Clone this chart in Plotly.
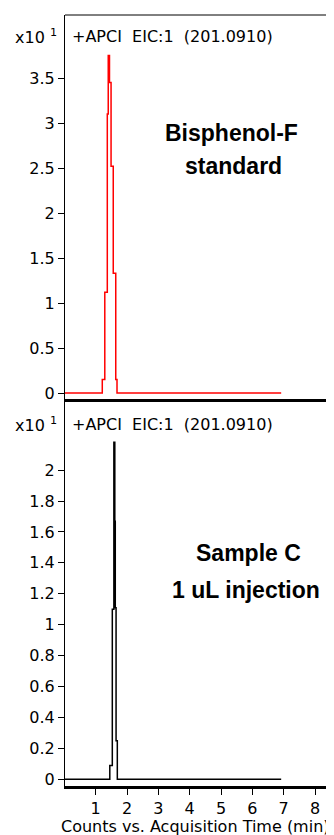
import plotly.graph_objects as go

# ---- data (time in min, counts in x10^1) ----
std_time = [0.0, 1.21, 1.29, 1.37, 1.40, 1.44, 1.49, 1.56, 1.64, 1.68, 6.92]
std_counts = [0.0, 0.15, 1.12, 3.10, 3.75, 3.45, 2.52, 1.33, 0.15, 0.0, 0.0]

smp_time = [0.0, 1.45, 1.53, 1.58, 1.61, 1.625, 1.65, 1.69, 6.92]
smp_counts = [0.0, 0.09, 1.10, 2.18, 1.67, 1.11, 0.25, 0.0, 0.0]

x_ticks = [1, 2, 3, 4, 5, 6, 7, 8]
top_yticks = [0, 0.5, 1, 1.5, 2, 2.5, 3, 3.5]
bot_yticks = [0, 0.2, 0.4, 0.6, 0.8, 1, 1.2, 1.4, 1.6, 1.8, 2]

trace_label = "+APCI\u00a0\u00a0EIC:1\u00a0\u00a0(201.0910)"
x_title = "Counts vs. Acquisition Time (min)"

# the page body adds an 8 px margin; compensate so the picture lands at the window's pixels
OFF = 8
W, H = 334 - OFF, 835 - OFF
L, R, T, B = 65 - OFF, 0, 15 - OFF, 835 - 786
PW, PH = W - L - R, H - T - B


def px(xp, yp):
    """window pixel -> paper coordinates"""
    xf, yf = xp - OFF, yp - OFF
    return (xf - L) / PW, (H - B - yf) / PH


split = px(0, 399)[1]  # paper y where panels meet

FONT = "DejaVu Sans"

fig = go.Figure()
fig.add_trace(go.Scatter(x=std_time, y=std_counts, mode="lines", line=dict(color="#ff0000", width=1.5, shape="hv"),
                         xaxis="x", yaxis="y", showlegend=False, hoverinfo="skip"))
fig.add_trace(go.Scatter(x=smp_time, y=smp_counts, mode="lines", line=dict(color="#000000", width=1.5, shape="hv"),
                         xaxis="x2", yaxis="y2", showlegend=False, hoverinfo="skip"))

xr = [0.02, 8.606]
fig.update_layout(
    width=W, height=H,
    margin=dict(l=L, r=R, t=T, b=B, pad=0, autoexpand=False),
    paper_bgcolor="white", plot_bgcolor="white",
    font=dict(family=FONT, size=16, color="#000"),
    xaxis=dict(domain=[0, 1], anchor="y", range=xr, showgrid=False, zeroline=False, automargin=False,
               showline=True, linecolor="black", linewidth=3, showticklabels=False, ticks=""),
    yaxis=dict(domain=[split, 1], anchor="x", range=[-0.0667, 4.2], showgrid=False, zeroline=False,
               automargin=False,
               showline=True, linecolor="black", linewidth=1, ticks="outside", ticklen=6,
               tickcolor="black", tickvals=top_yticks, tickfont=dict(size=16)),
    xaxis2=dict(domain=[0, 1], anchor="y2", range=xr, showgrid=False, zeroline=False, automargin=False,
                showline=True, linecolor="black", linewidth=3, ticks="outside", ticklen=6,
                tickcolor="black", tickvals=x_ticks, tickfont=dict(size=16)),
    yaxis2=dict(domain=[0, split], anchor="x2", range=[-0.0434, 2.46], showgrid=False, zeroline=False,
                automargin=False,
                showline=True, linecolor="black", linewidth=1, ticks="outside", ticklen=6,
                tickcolor="black", tickvals=bot_yticks, tickfont=dict(size=16)),
)

# top border of the upper panel
fig.add_shape(type="line", xref="paper", yref="paper", x0=0, x1=1, y0=1, y1=1,
              line=dict(color="black", width=1))

anns = []


def add_text(text, xp_, yp_, xanchor, size=16, family=FONT):
    ax, ay = px(xp_, yp_)
    anns.append(dict(text=text, x=ax, y=ay, xref="paper", yref="paper", xanchor=xanchor, yanchor="middle",
                     showarrow=False, font=dict(size=size, family=family, color="#000")))


for yp in (36, 424):
    add_text(trace_label, 70, yp, "left")
    add_text("x10 <sup>1</sup>", 59, yp, "right")

add_text(x_title, 195, 826, "center")

for txt, xp_, yp_ in [("Bisphenol-F", 231, 133), ("standard", 233, 166),
                      ("Sample C", 248, 553), ("1 uL injection", 246, 590)]:
    add_text("<b>" + txt + "</b>", xp_, yp_, "center", size=23, family="Liberation Sans")

fig.update_layout(annotations=anns)
fig.write_html("out.html")
